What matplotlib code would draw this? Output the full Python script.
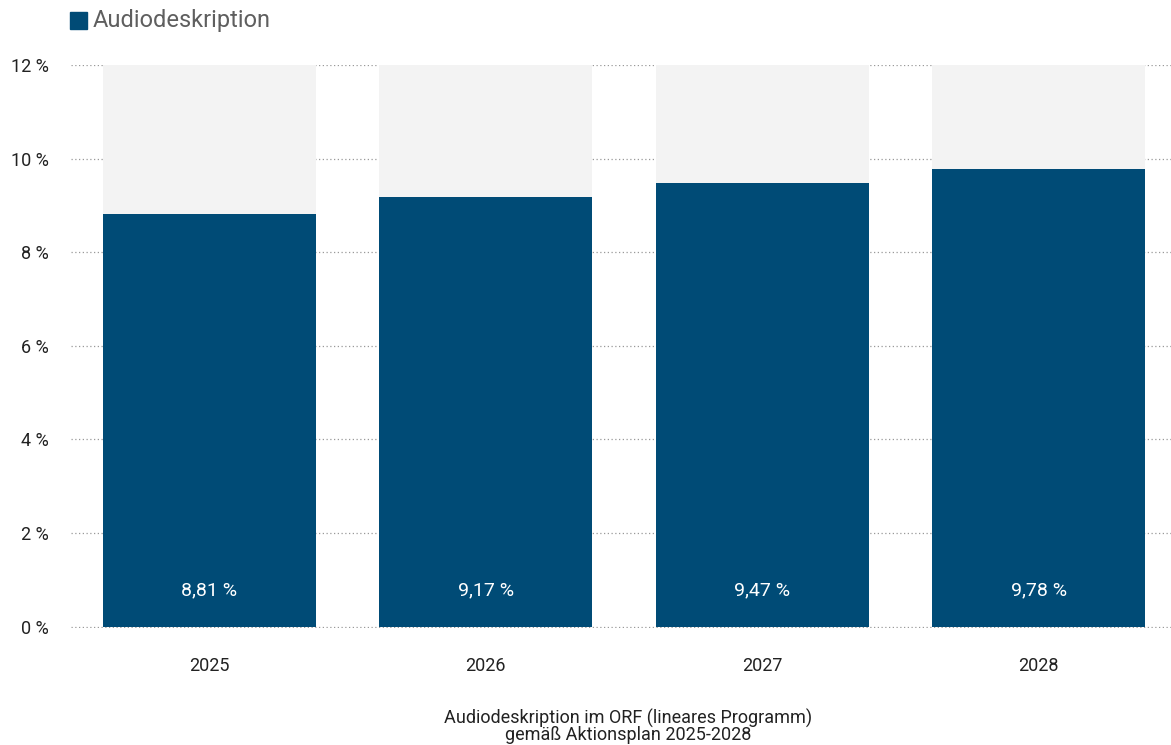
import matplotlib.pyplot as plt
from matplotlib.patches import Rectangle

years = ['2025', '2026', '2027', '2028']
values = [8.81, 9.17, 9.47, 9.78]
value_labels = ['8,81 %', '9,17 %', '9,47 %', '9,78 %']
y_ticks = [0, 2, 4, 6, 8, 10, 12]
y_max = 12

bar_color = '#004b76'
back_color = '#f3f3f3'

cond = ['Liberation Sans Narrow', 'Roboto', 'DejaVu Sans']
plain = ['Roboto', 'DejaVu Sans']

fig = plt.figure(figsize=(11.71, 7.45), dpi=100)
ax = fig.add_axes([71 / 1171, 117 / 745, 1106 / 1171, 563 / 745])

x = range(len(years))
ax.bar(x, [y_max] * len(years), width=0.77, color=back_color, zorder=1)
ax.bar(x, values, width=0.77, color=bar_color, zorder=2)

for i, lab in enumerate(value_labels):
    ax.text(i, 0.78, lab, color='white', ha='center', va='center',
            fontsize=14, family=plain, zorder=3)

ax.set_xlim(-0.5, 3.5)
ax.set_ylim(-0.03, y_max)
ax.set_yticks(y_ticks)
ax.set_yticklabels([f'{t} %' for t in y_ticks], family=cond, fontsize=13, color='#222222')
ax.set_xticks(list(x))
ax.set_xticklabels(years, family=cond, fontsize=13, color='#222222')
ax.tick_params(axis='both', length=0)
ax.tick_params(axis='y', pad=16)
ax.tick_params(axis='x', pad=21)
ax.grid(axis='y', color='#999999', linestyle=(0, (1, 2)), linewidth=0.9, zorder=0)
ax.set_axisbelow(True)
for s in ax.spines.values():
    s.set_visible(False)

# legend
fig.patches.append(Rectangle((70 / 1171, (745 - 29) / 745), 17 / 1171, 17 / 745,
                             transform=fig.transFigure, color=bar_color))
fig.text(93 / 1171, (745 - 21) / 745, 'Audiodeskription', family=plain, fontsize=17,
         color='#5f5f5f', va='center', ha='left')

fig.text(628 / 1171, (745 - 726) / 745,
         'Audiodeskription im ORF (lineares Programm)\ngemäß Aktionsplan 2025-2028',
         family=cond, fontsize=13, color='#222222', ha='center', va='center',
         linespacing=0.85)

fig.savefig('out.png', dpi=100)
